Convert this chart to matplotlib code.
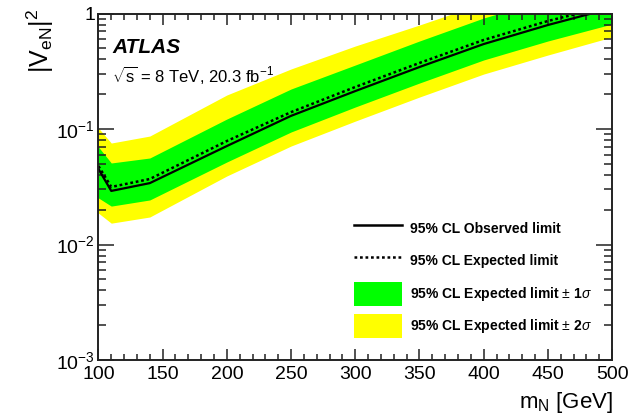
import numpy as np
import matplotlib
matplotlib.use('Agg')
import matplotlib.pyplot as plt
from matplotlib.ticker import FixedLocator, FixedFormatter, MultipleLocator
from matplotlib.patches import Patch
from matplotlib.lines import Line2D

plt.rcParams['font.family'] = ['Liberation Sans', 'DejaVu Sans']
plt.rcParams['mathtext.fontset'] = 'custom'
plt.rcParams['mathtext.rm'] = 'Liberation Sans'
plt.rcParams['mathtext.it'] = 'Liberation Sans:italic'
plt.rcParams['mathtext.bf'] = 'Liberation Sans:bold'

# heavy neutrino mass points [GeV]
mass = [100, 110, 140, 200, 250, 300, 350, 400, 450, 500]

# 95% CL limits on |V_eN|^2
observed = [0.0451, 0.0291, 0.0340, 0.0712, 0.130, 0.213, 0.344, 0.544, 0.795, 1.116]
expected = [0.0478, 0.0315, 0.0369, 0.0787, 0.140, 0.231, 0.373, 0.590, 0.861, 1.185]
exp_1s_up = [0.0699, 0.0508, 0.0561, 0.122, 0.222, 0.358, 0.578, 0.914, 1.335, 1.84]
exp_1s_dn = [0.0253, 0.0215, 0.0243, 0.0518, 0.0942, 0.155, 0.250, 0.396, 0.578, 0.811]
exp_2s_up = [0.102, 0.0756, 0.0869, 0.197, 0.331, 0.523, 0.795, 1.23, 1.80, 2.48]
exp_2s_dn = [0.0187, 0.0153, 0.0173, 0.0392, 0.0712, 0.117, 0.189, 0.299, 0.437, 0.626]

ytick_vals = [1e-3, 1e-2, 1e-1, 1]
ytick_labels = [r'$10^{-3}$', r'$10^{-2}$', r'$10^{-1}$', '1']

fig = plt.figure(figsize=(6.31, 4.17), dpi=100)
ax = fig.add_axes([0.156, 0.1367, 0.814, 0.8309])

ax.fill_between(mass, exp_2s_dn, exp_2s_up, color='#ffff00', lw=0)
ax.fill_between(mass, exp_1s_dn, exp_1s_up, color='#00ff00', lw=0)
ax.plot(mass, expected, color='black', lw=1.8, ls=(0, (1.1, 1.1)))
ax.plot(mass, observed, color='black', lw=1.6)

ax.set_yscale('log')
ax.set_xlim(100, 500)
ax.set_ylim(1e-3, 1)

ax.xaxis.set_major_locator(MultipleLocator(50))
ax.xaxis.set_minor_locator(MultipleLocator(10))
ax.yaxis.set_major_locator(FixedLocator(ytick_vals))
ax.yaxis.set_major_formatter(FixedFormatter(ytick_labels))
ax.yaxis.set_minor_locator(matplotlib.ticker.LogLocator(base=10, subs=np.arange(2, 10)))
ax.yaxis.set_minor_formatter(matplotlib.ticker.NullFormatter())

ax.tick_params(which='both', direction='in', top=True, right=True, width=1.1, color='#222222')
ax.tick_params(axis='x', which='major', length=8, pad=4.3, labelsize=14)
ax.tick_params(axis='x', which='minor', length=4)
ax.tick_params(axis='y', which='major', length=11.5, pad=2.5, labelsize=14)
ax.tick_params(axis='y', which='minor', length=6)
for s in ax.spines.values():
    s.set_linewidth(1.4)
    s.set_color('#222222')

ax.set_ylabel(r'$\mathrm{|V_{eN}|^{2}}$', fontsize=18, loc='top')
ax.yaxis.set_label_coords(-0.083, 1.012)
ax.set_xlabel(r'$\mathrm{m_{N}}$ [GeV]', fontsize=16, loc='right')
ax.xaxis.set_label_coords(1.002, -0.0866)
ax.xaxis.label.set_va('top')

ax.text(0.0263, 0.886, 'ATLAS', transform=ax.transAxes, fontsize=15,
        fontweight='bold', fontstyle='italic', va='baseline')
ax.text(0.0263, 0.802, r'$\sqrt{\mathrm{s}}$ = 8 TeV, 20.3 fb$^{-1}$', transform=ax.transAxes,
        fontsize=12, va='baseline')

handles = [
    Line2D([], [], color='black', lw=1.8),
    Line2D([], [], color='black', lw=1.8, ls=(0, (1.1, 1.1))),
    Patch(facecolor='#00ff00', edgecolor='none'),
    Patch(facecolor='#ffff00', edgecolor='none'),
]
labels = ['95% CL Observed limit', '95% CL Expected limit',
          r'95% CL Expected limit $\pm$ 1$\sigma$', r'95% CL Expected limit $\pm$ 2$\sigma$']
leg = ax.legend(handles, labels, loc='upper left', bbox_to_anchor=(0.4976, 0.414),
                frameon=False, borderpad=0, borderaxespad=0, handlelength=3.45,
                handleheight=2.3, labelspacing=0.6, handletextpad=0.55,
                prop={'size': 10, 'weight': 'bold'})

fig.savefig('out.png', dpi=100)
